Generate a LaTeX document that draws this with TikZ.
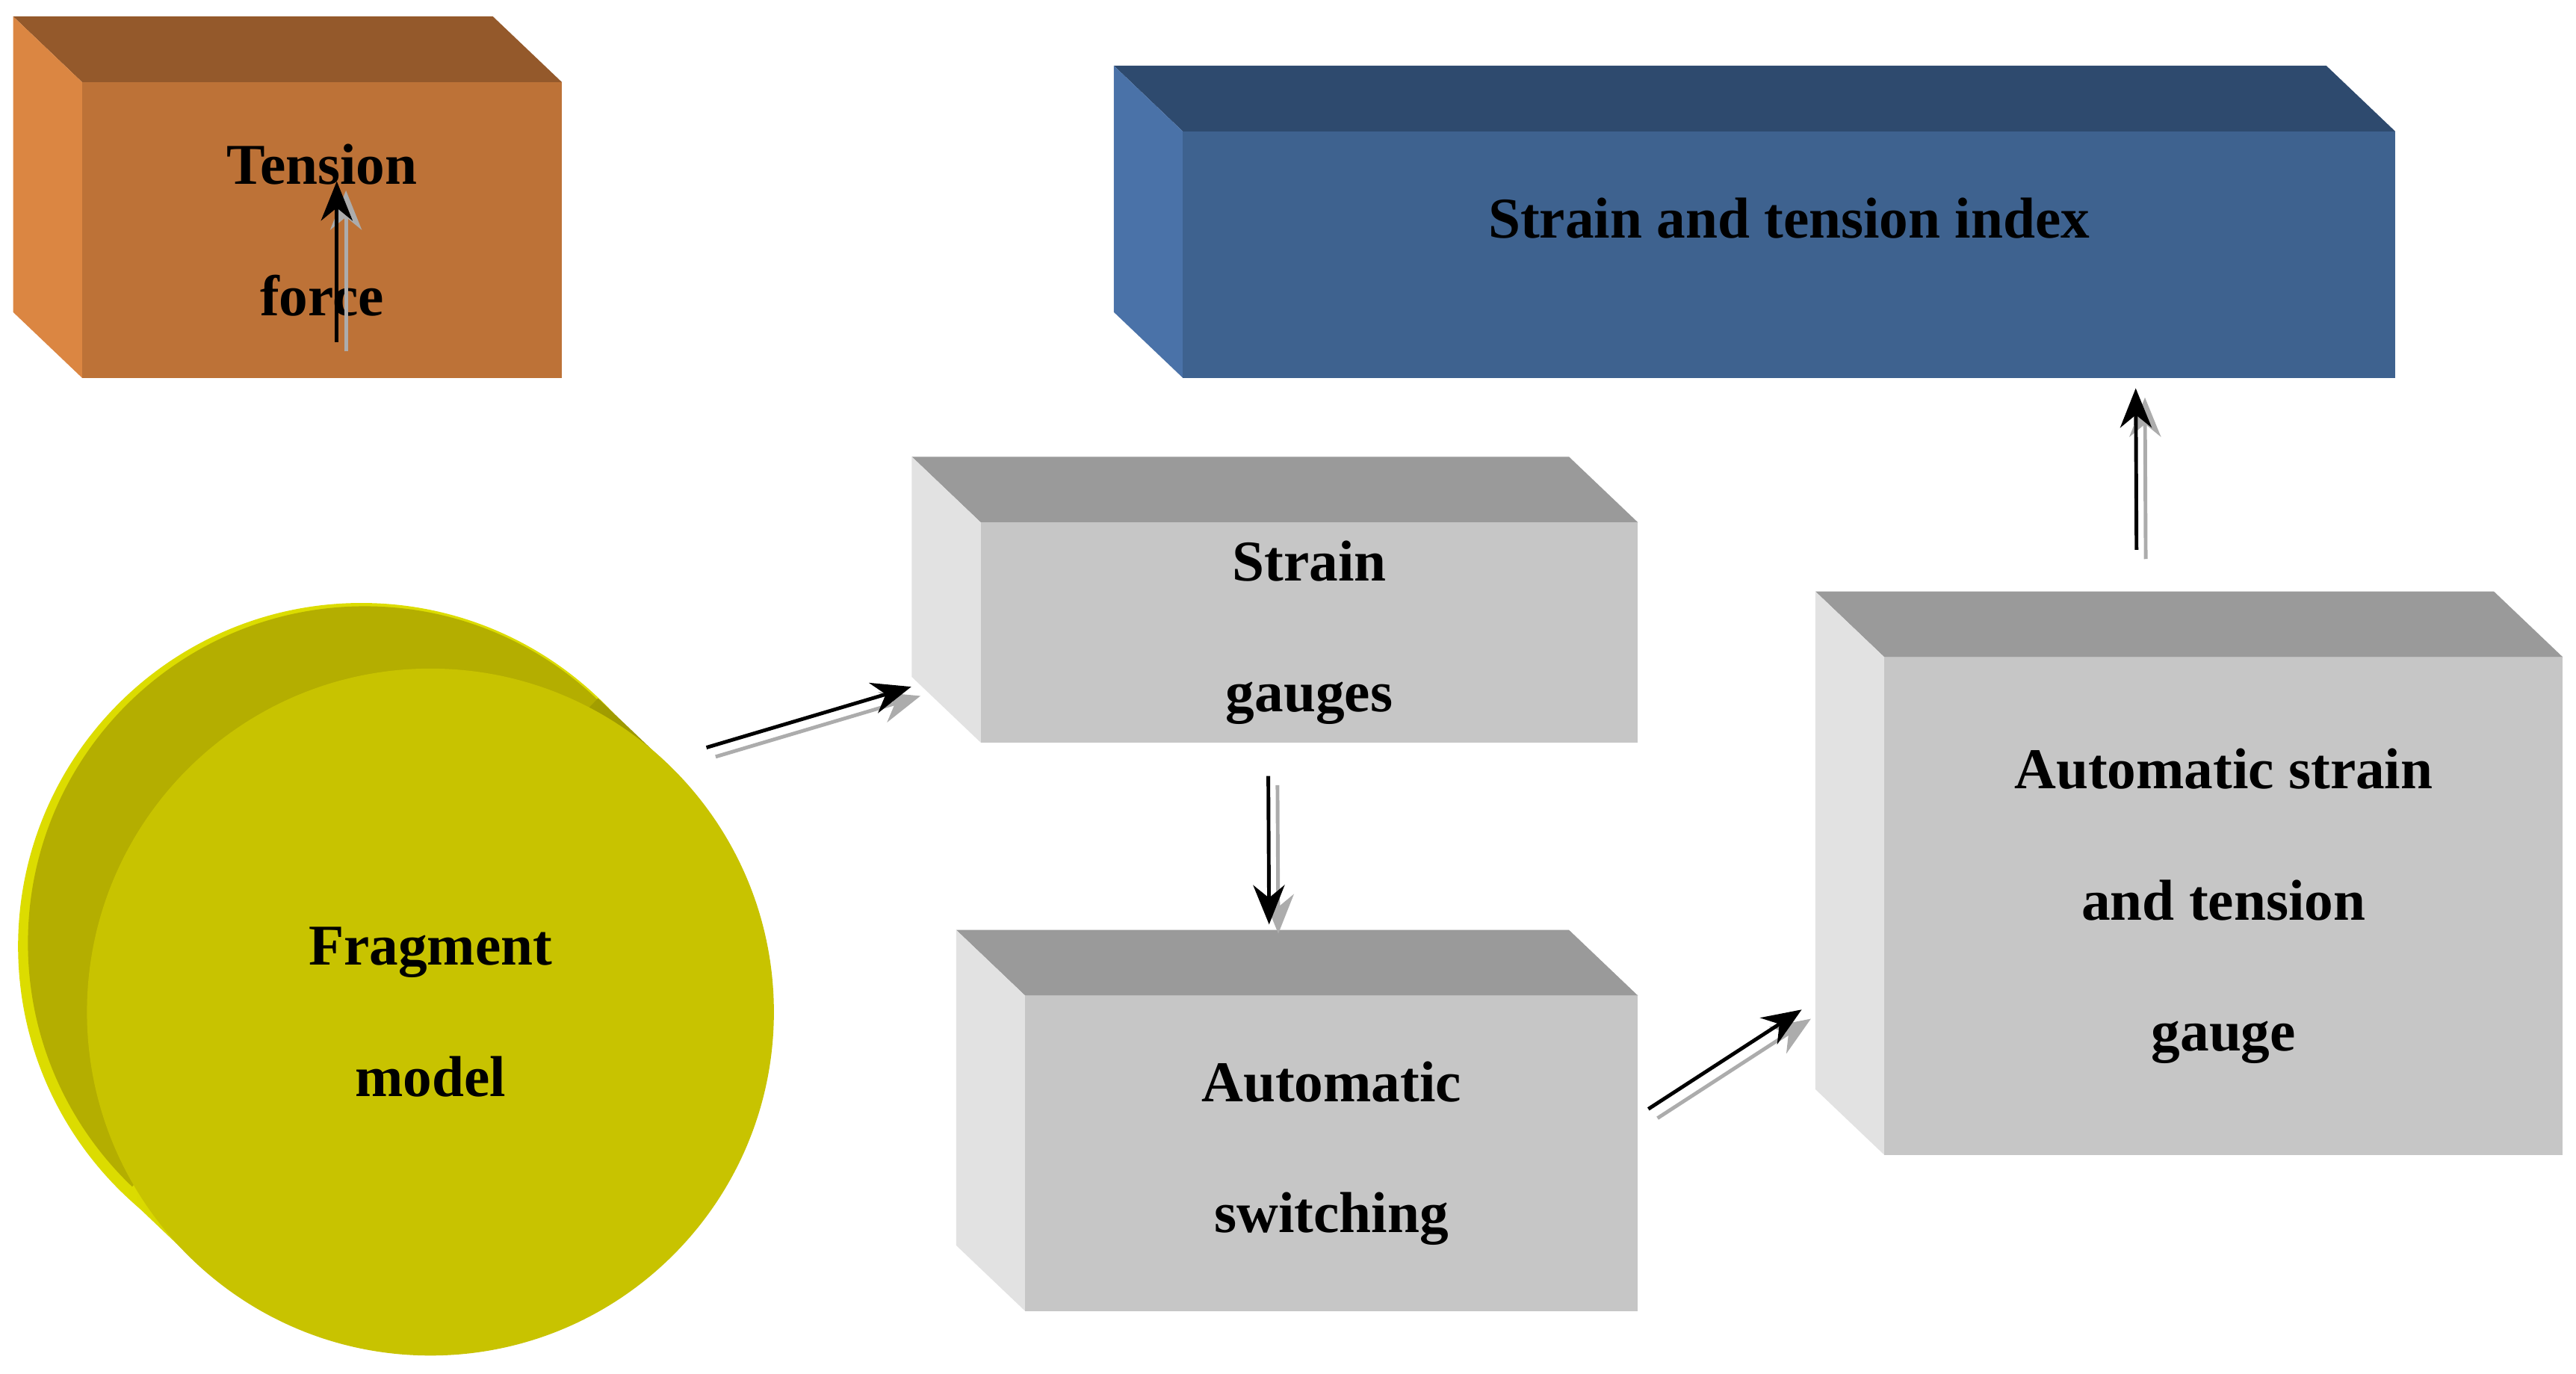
\documentclass[tikz,border=0pt]{standalone}
\usepackage{fontspec}
\setmainfont{Liberation Serif}
\usetikzlibrary{positioning,calc,arrows.meta}

\definecolor{orfront}{HTML}{BD7237}
\definecolor{ortop}{HTML}{94592B}
\definecolor{orside}{HTML}{DB8642}
\definecolor{blfront}{HTML}{3E628F}
\definecolor{bltop}{HTML}{2E4A6E}
\definecolor{blside}{HTML}{4A72A8}
\definecolor{grfront}{HTML}{C6C6C6}
\definecolor{grtop}{HTML}{9A9A9A}
\definecolor{grside}{HTML}{E2E2E2}
\definecolor{yefront}{HTML}{C8C300}
\definecolor{yeback}{HTML}{B4AE00}
\definecolor{yeedge}{HTML}{DCDC00}

% a box seen from the upper left: name, x1, y1, x2, y2, colours front/top/side, text
\newcommand{\slab}[9]{
  \fill[#7] (#2,#3) -- (#4,#3) -- ($(#4,#3)+(-42,-40)$) -- ($(#2,#3)+(-42,-40)$) -- cycle;
  \fill[#8] (#2,#3) -- ($(#2,#3)+(-42,-40)$) -- ($(#2,#5)+(-42,-40)$) -- (#2,#5) -- cycle;
  \pgfmathsetmacro{\bw}{(#4-#2)*0.022}
  \pgfmathsetmacro{\bh}{(#5-#3)*0.022}
  \node[face, fill=#6, minimum width=\bw cm, minimum height=\bh cm] (#1) at ($(#2,#3)!0.5!(#4,#5)$) {};
  \node[txt] at (#1) {#9};
}

\begin{document}
\begin{tikzpicture}[x=0.022cm, y=-0.022cm,
    face/.style={rectangle, draw=none, inner sep=0pt},
    txt/.style={align=center, font=\fontsize{22}{50}\selectfont\bfseries},
    flow/.style={draw=black, line width=1.4pt, -{Stealth[length=15pt,width=12pt]},
      preaction={draw=gray!65, line width=1.4pt, -{Stealth[length=15pt,width=12pt]},
        transform canvas={shift={(3.5pt,-3.5pt)}}}}]
  \useasboundingbox (0,0) rectangle (1568,836);

  \slab{tf}{50}{50}{342}{230}{orfront}{ortop}{orside}{Tension\\force}
  \slab{idx}{720}{80}{1458}{230}{blfront}{bltop}{blside}{Strain and tension index\\[-2.2ex]\mbox{}}
  \slab{sg}{597}{318}{997}{452}{grfront}{grtop}{grside}{Strain\\gauges}
  \slab{sw}{624}{606}{997}{798}{grfront}{grtop}{grside}{Automatic\\switching}
  \slab{as}{1147}{400}{1560}{703}{grfront}{grtop}{grside}{Automatic strain\\and tension\\gauge}

  % fragment cylinder
  \fill[yeedge] (220,576) circle[radius=209];
  \fill[yeback] (222,574) circle[radius=205];
  \shade[left color=yeedge, right color=yeback!85!black]
    (76,727) -- (118,767) -- (406,465) -- (364,425) -- cycle;
  \node[circle, fill=yefront, inner sep=0pt, minimum size=9.2cm] (frag) at (262,616) {};
  \node[txt] at (frag) {Fragment\\model};

  \draw[flow] ($(tf.south)+(9,-22)$) -- ($(tf.south)+(9,-120)$);
  \draw[flow] ($(frag.center)+(168,-161)$) -- ($(sg.west)+(-42,33)$);
  \draw[flow] ($(sg.south)+(-25,20)$) -- ($(sw.north)+(-38,-43)$);
  \draw[flow] ($(sw.east)+(6,-27)$) -- ($(as.west)+(-50,63)$);
  \draw[flow] ($(as.north)+(-53,-65)$) -- ($(idx.south)+(211,6)$);
\end{tikzpicture}
\end{document}
